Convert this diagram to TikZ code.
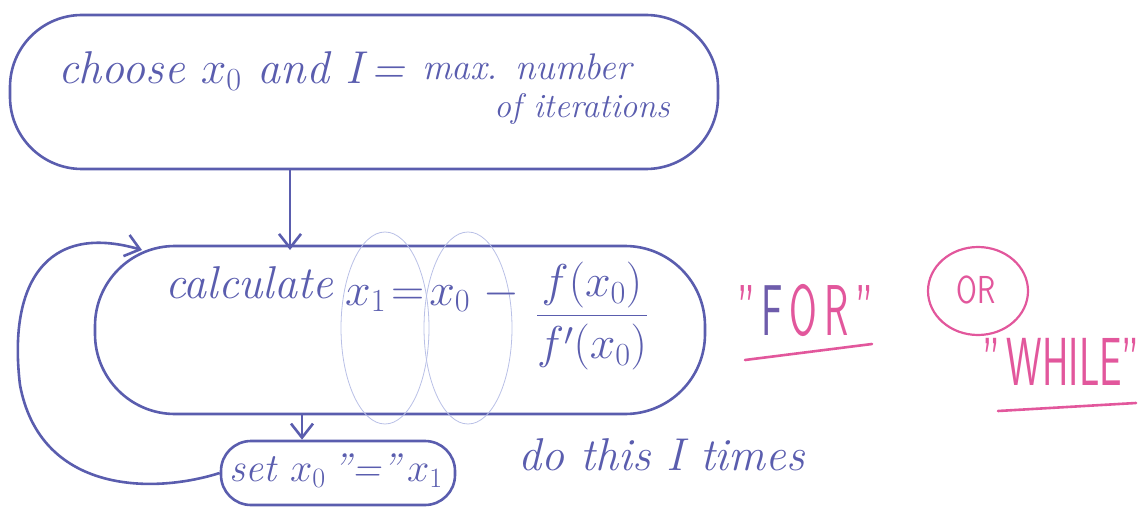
\RequirePackage{fix-cm}
\documentclass[tikz,border=0pt]{standalone}
\usepackage{amsmath}
\usepackage{graphicx}
\usetikzlibrary{arrows.meta,shapes.geometric}
\definecolor{ink}{HTML}{5A5DAE}
\definecolor{pinkink}{HTML}{E2579C}
\definecolor{faint}{HTML}{B9C0E6}
\tikzset{
  blob/.style={draw=ink, line width=2.6pt, rounded corners=#1},
  hand/.style={text=ink, font=\itshape\fontsize{46}{52}\selectfont, inner sep=0pt},
  handset/.style={text=ink, font=\itshape\fontsize{40}{46}\selectfont, inner sep=0pt},
  handmid/.style={text=ink, font=\itshape\fontsize{37}{42}\selectfont, inner sep=0pt},
  handsmall/.style={text=ink, font=\itshape\fontsize{34}{38}\selectfont, inner sep=0pt},
  pinktext/.style={text=pinkink, font=\sffamily\fontsize{40}{46}\selectfont, inner sep=0pt},
  flow/.style={draw=ink, line width=2.6pt, -{Straight Barb[length=14pt,width=22pt,line width=2.6pt]}},
  uline/.style={draw=pinkink, line width=2.6pt, line cap=round}
}
\begin{document}
\begin{tikzpicture}[x=1pt,y=-1pt]
\useasboundingbox (0,0) rectangle (1142,513);
% shapes
\node[blob=72pt, minimum width=708pt, minimum height=154pt] (start) at (364,92) {};
\node[blob=80pt, minimum width=610pt, minimum height=168pt] (calc) at (400,330) {};
\node[blob=30pt, minimum width=234pt, minimum height=64pt] (set) at (338,473) {};
% faint loops
\node[draw=faint, line width=0.8pt, ellipse, minimum width=88pt, minimum height=192pt] (loopa) at (385,328) {};
\node[draw=faint, line width=0.8pt, ellipse, minimum width=88pt, minimum height=192pt] (loopb) at (468,328) {};
% texts
\node[hand, anchor=base west] (t1) at (58,84) {choose $x_0$ and I\,=};
\node[handmid, anchor=base west] (t2) at (422,80) {max. number};
\node[handsmall, anchor=base west] (t3) at (494,118) {of iterations};
\node[hand, anchor=base west] (c1) at (165,298) {calculate};
\node[hand, anchor=base west] (c2) at (345,305) {$x_1\!=\!x_0\;-$};
\node[hand] (c3) at (592,316) {$\dfrac{f(x_0)}{f'(x_0)}$};
\node[handset] (s1) at (336,471) {set $x_0$\,"="\,$x_1$};
\node[hand, anchor=base west] (d1) at (518,470) {do this I times};
% pink notes
\node[pinktext] (for) at (805,311) {\scalebox{1}[1.8]{"\,\textcolor{ink!85!pinkink}{F}\,O\,R\,"}};
\node[draw=pinkink, line width=2.2pt, ellipse, minimum width=100pt, minimum height=88pt, inner sep=0pt] (orc) at (978,291) {};
\node[text=pinkink, font=\sffamily\fontsize{30}{34}\selectfont] (or) at (976,290) {\scalebox{1}[1.3]{OR}};
\node[pinktext] (while) at (1061,362) {\scalebox{1}[1.7]{"\,WHILE"}};
\coordinate (u1a) at (745,360); \coordinate (u1b) at (872,344);
\coordinate (u2a) at (998,411); \coordinate (u2b) at (1136,403);
\draw[uline] (u1a) -- (u1b);
\draw[uline] (u2a) -- (u2b);
% connectors
\draw[flow] (start.south -| 290,0) -- (290,250);
\draw[flow] (calc.south -| 302,0) -- (set.north -| 302,0);
\coordinate (loopend) at (142,250);
\draw[flow] (set.west) .. controls (150,495) and (40,492) .. (20,385)
  .. controls (8,285) and (45,222) .. (loopend);
\end{tikzpicture}
\end{document}
